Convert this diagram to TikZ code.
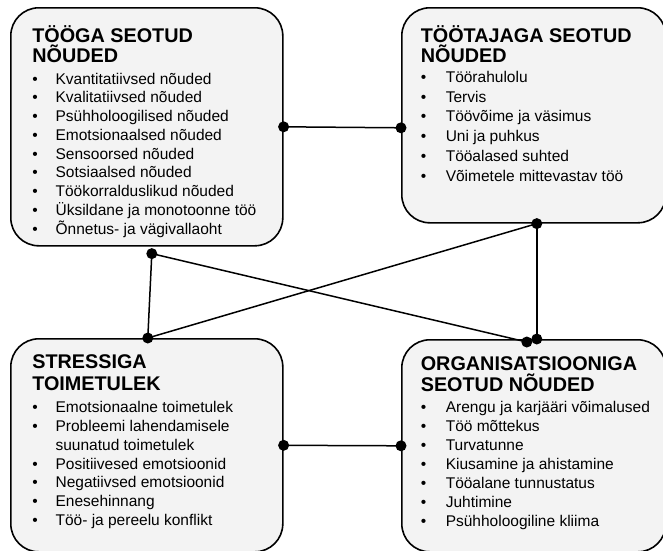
\documentclass[tikz,border=0pt]{standalone}
\usepackage{fontspec}
\setmainfont{Liberation Sans}
\usepackage{xcolor}
\usetikzlibrary{calc}

\definecolor{boxgray}{HTML}{F3F3F3}

\newlength{\bulw}
% one bullet line, hanging indent for wrapped text
\newcommand{\itm}[1]{\par\hangindent=\bulw\hangafter=1\noindent\makebox[\bulw][l]{\textbullet}#1}
% bold two-line heading: first baseline, line skip, line 1, line 2
\newcommand{\boxhead}[4]{{\fontsize{19.8}{#2}\selectfont\bfseries\noindent\rule{0pt}{#1}#3\\#4\par}}

\begin{document}
\begin{tikzpicture}[x=1pt, y=-1pt,
  area/.style={draw, line width=1.6pt, fill=boxgray, rounded corners=28pt, anchor=north west, inner ysep=13pt},
  link/.style={line width=1.5pt}
]
\useasboundingbox (0,0) rectangle (663,550);

\node[area, inner xsep=21.5pt] (tooga) at (10,7) {\parbox[t][212pt][t]{229pt}{%
  \setlength{\bulw}{23.3pt}\raggedright\parskip=0pt
  \boxhead{21.4pt}{20.3pt}{TÖÖGA SEOTUD}{NÕUDED}
  \vspace{2.85pt}\fontsize{15.5}{18.75}\selectfont
  \itm{Kvantitatiivsed nõuded}
  \itm{Kvalitatiivsed nõuded}
  \itm{Psühholoogilised nõuded}
  \itm{Emotsionaalsed nõuded}
  \itm{Sensoorsed nõuded}
  \itm{Sotsiaalsed nõuded}
  \itm{Töökorralduslikud nõuded}
  \itm{Üksildane ja monotoonne töö}
  \itm{Õnnetus- ja vägivallaoht}}};

\node[area, inner xsep=19pt] (tootaja) at (401,7) {\parbox[t][189pt][t]{226pt}{%
  \setlength{\bulw}{25pt}\raggedright\parskip=0pt
  \boxhead{21.4pt}{20pt}{TÖÖTAJAGA SEOTUD}{NÕUDED}
  \fontsize{15.5}{19.9}\selectfont
  \itm{Töörahulolu}
  \itm{Tervis}
  \itm{Töövõime ja väsimus}
  \itm{Uni ja puhkus}
  \itm{Tööalased suhted}
  \itm{Võimetele mittevastav töö}}};

\node[area, inner xsep=21.5pt] (stress) at (10,338) {\parbox[t][187pt][t]{229pt}{%
  \setlength{\bulw}{23.3pt}\raggedright\parskip=0pt
  \boxhead{17pt}{22pt}{STRESSIGA}{TOIMETULEK}
  \vspace{3.25pt}\fontsize{15.5}{18.75}\selectfont
  \itm{Emotsionaalne toimetulek}
  \itm{Probleemi lahendamisele\hfil\break suunatud toimetulek}
  \itm{Positiivesed emotsioonid}
  \itm{Negatiivsed emotsioonid}
  \itm{Enesehinnang}
  \itm{Töö- ja pereelu konflikt}}};

\node[area, inner xsep=19pt] (org) at (401,339) {\parbox[t][186pt][t]{226pt}{%
  \setlength{\bulw}{25pt}\raggedright\parskip=0pt\hfuzz=20pt
  \boxhead{17.3pt}{21.7pt}{ORGANISATSIOONIGA}{SEOTUD NÕUDED}
  \vspace{1.65pt}\fontsize{15.5}{19.05}\selectfont
  \itm{\mbox{Arengu ja karjääri võimalused}}
  \itm{Töö mõttekus}
  \itm{Turvatunne}
  \itm{Kiusamine ja ahistamine}
  \itm{Tööalane tunnustatus}
  \itm{Juhtimine}
  \itm{Psühholoogiline kliima}}};

% connector ends
\coordinate (toogaS) at ($(tooga.south)+(5,7)$);
\coordinate (tootajaW) at ($(tootaja.west)+(0,12.5)$);
\coordinate (tootajaS) at ($(tootaja.south)+(3,0)$);
\coordinate (stressN) at ($(stress.north)+(1,0)$);
\coordinate (orgN1) at ($(org.north)+(-7,3)$);
\coordinate (orgN2) at ($(org.north)+(3,0)$);

\draw[link] (tooga.east) -- (tootajaW);
\draw[link] (toogaS) -- (stressN);
\draw[link] (toogaS) -- (orgN1);
\draw[link] (tootajaS) -- (stressN);
\draw[link] (tootajaS) -- (orgN2);
\draw[link] (stress.east) -- (org.west);

\foreach \p in {tooga.east, tootajaW, toogaS, tootajaS, stressN, orgN1, orgN2, stress.east, org.west}
  \fill (\p) circle (5.5pt);
\end{tikzpicture}
\end{document}
